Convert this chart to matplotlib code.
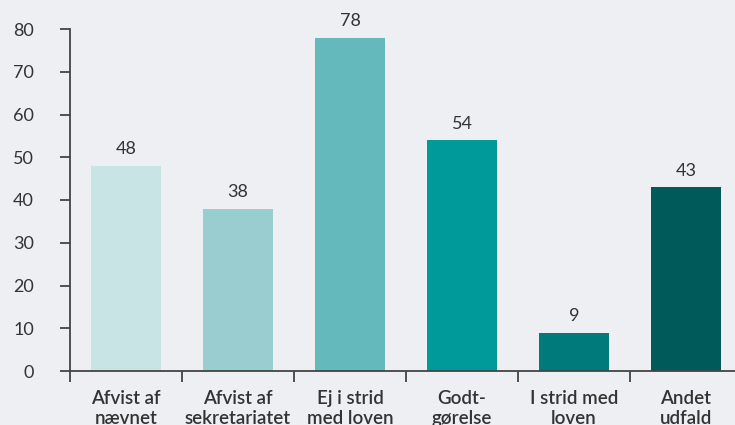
import matplotlib.pyplot as plt

# data
categories = ['Afvist af\nnævnet', 'Afvist af\nsekretariatet', 'Ej i strid\nmed loven',
              'Godt-\ngørelse', 'I strid med\nloven', 'Andet\nudfald']
values = [48, 38, 78, 54, 9, 43]
colors = ['#c9e4e5', '#9acdd0', '#64b9bd', '#009a9a', '#007a7a', '#005a5a']

plt.rcParams['font.family'] = ['Lato', 'DejaVu Sans']
bg = '#eeeff3'

fig = plt.figure(figsize=(7.35, 4.25), dpi=100, facecolor=bg)
ax = fig.add_axes([70 / 735, 1 - 371 / 425, 672 / 735, 342 / 425])
ax.set_facecolor(bg)

x = range(len(values))
bars = ax.bar(x, values, width=0.625, color=colors)
for xi, v in zip(x, values):
    ax.text(xi, v + 2, str(v), ha='center', va='bottom', fontsize=13, color='#333333')

ax.set_xlim(-0.5, 5.5)
ax.set_ylim(0, 80)
ax.set_yticks(range(0, 81, 10))
ax.set_xticks([i - 0.5 for i in range(7)])
ax.set_xticklabels([])
ax.set_xticks(list(x), minor=True)
ax.set_xticklabels(categories, minor=True, fontsize=13.5, fontweight='semibold',
                   color='#333333', linespacing=1.2)
ax.tick_params(axis='x', which='minor', length=0, pad=14)
ax.tick_params(axis='x', which='major', length=8, width=1.3, color='#444444', direction='out')
ax.tick_params(axis='y', length=7, width=1.3, color='#444444', labelsize=13,
               labelcolor='#333333', pad=19)

for s in ['top', 'right']:
    ax.spines[s].set_visible(False)
for s in ['left', 'bottom']:
    ax.spines[s].set_color('#444444')
    ax.spines[s].set_linewidth(1.3)

fig.savefig('out.png', dpi=100, facecolor=bg)
